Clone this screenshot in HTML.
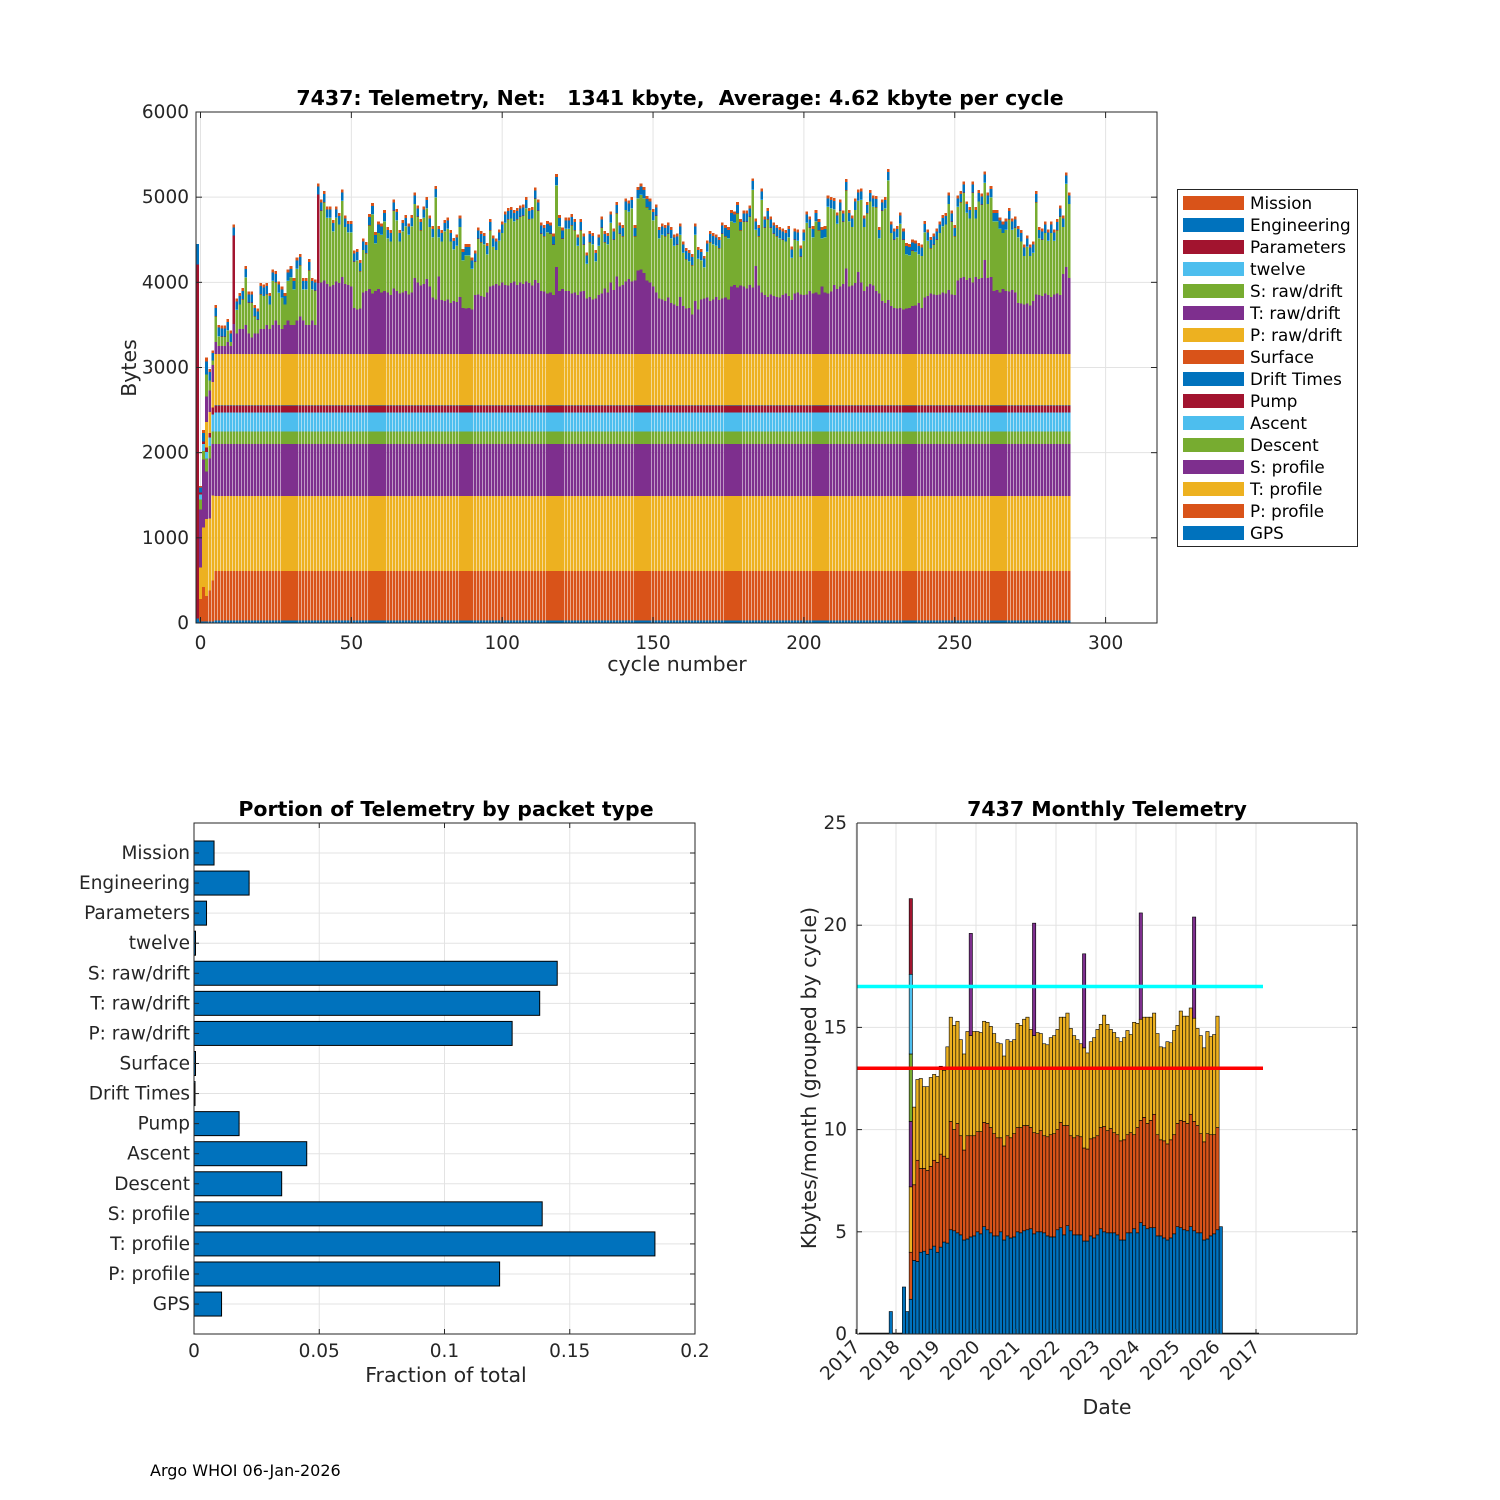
<!DOCTYPE html>
<html><head><meta charset="utf-8"><style>
html,body{margin:0;padding:0;background:#fff;}
svg{display:block;font-family:"DejaVu Sans","Liberation Sans",sans-serif;}
</style></head><body>
<svg id="root" width="1500" height="1500" viewBox="0 0 1500 1500" xmlns="http://www.w3.org/2000/svg">
<rect x="0" y="0" width="1500" height="1500" fill="#fff"/>
<g id="top"></g>
<g id="bl"></g>
<g id="br"></g>
<text x="150" y="1476" font-size="16" fill="#000">Argo WHOI 06-Jan-2026</text>
</svg>
<script>
// ===== Top chart data =====
const layerNames = ["GPS","P: profile","T: profile","S: profile","Descent","Ascent","Pump","Drift Times","Surface","P: raw/drift","T: raw/drift","S: raw/drift","twelve","Parameters","Engineering","Mission"];
const layerColors = ["#0072BD","#D95319","#EDB120","#7E2F8E","#77AC30","#4DBEEE","#A2142F","#0072BD","#D95319","#EDB120","#7E2F8E","#77AC30","#4DBEEE","#A2142F","#0072BD","#D95319"];
const firstCycle = -1;
// total bytes per cycle, cycles -1..288
const cycleTotal = [
4450,1590,2265,3060,2980,3200,3730,3500,3490,3490,3570,3430,4680,3810,3870,3930,4190,3890,3890,3730,3690,3990,3970,3990,3870,4150,4130,4010,3950,3870,4150,4190,4050,4290,4330,4050,4050,4270,4050,4030,5160,
4970,5070,4890,4890,4730,4890,4810,5090,4780,4720,4720,4370,4390,4260,4510,4470,4800,4930,4590,4710,4690,4850,4650,4610,4970,4860,4610,4730,4790,4690,4790,5050,4900,4740,4890,5000,4780,4660,5130,4660,4610,4730,4760,4610,4520,4560,4780,4390,4450,4450,4290,4370,4640,4600,4580,4460,4740,4550,4510,4620,4710,4830,4870,4880,4850,4870,4900,4910,5000,4870,4880,5110,4970,4700,4670,4720,4700,4570,5270,4790,4640,4760,
4760,4800,4740,4560,4740,4570,4350,4600,4580,4380,4560,4770,4600,4580,4830,4630,4940,4700,4670,4980,4960,5000,4670,5120,5160,5120,5010,4980,4860,4910,4650,4690,4670,4700,4650,4560,4570,4690,4480,4400,4380,4330,4690,4410,4390,4310,4490,4600,4580,4560,4530,4700,4670,4650,4850,4830,4940,4740,4840,4840,4900,5220,4750,4670,5100,4770,4870,4770,4700,4670,4650,4630,4610,4660,4420,4630,4620,4430,4620,4830,4770,4660,4850,4740,4650,4660,5020,5000,4990,
4820,4970,4840,5210,4850,4780,4980,5090,5100,4780,4940,5080,5020,5010,4650,4970,5000,5330,4710,4630,4660,4820,4630,4460,4450,4500,4490,4460,4440,4720,4620,4530,4570,4630,4710,4790,4810,5050,4840,4670,5020,5070,5180,4950,4880,5180,4880,5080,5040,5300,5050,5130,4850,4850,4760,4710,4750,4870,4750,4770,4660,4610,4440,4550,4440,4480,5070,4650,4630,4710,4620,4710,4620,4740,4900,4780,5290,5050
];
// top of "T: raw/drift" layer for cycles 5..288
const tRawTop = [
3300,3250,3250,3250,3300,3250, 3510, 3400,3450,3450,3500, 3400,3350,3400,3400,3450,
3450,3500,3450,3500,3550,3500,3450,3500,3550,3500, 3500,3550,3600,3550,3500,3500,3550,3500, 3990,
4000,4020,3980,3950,3970,4010,3990,4060,3980,3970,3950, 3700,3680,3690, 3880,3900,3920,3870,3900,3920,3880,
3900,3880,3850,3930,3900,3870,3880,3900,3860,3880, 4050,4000,3960,3980,4040,3950,
3820,3800,4070,3790,3780,3800,3760,3780,3770, 3830,3700,3690,3700,3680, 3850,3860,3840,3830,3880,
3950,3960,3980,3960,4000,3970,3960,3990,4010,3970,4000,3980,4010,3990,3960, 4030,3990,3900,3890,3870,3880,3850,
4180,3900,3920,3900, 3900,3870,3880,3850,3890,3900,3810,3830,3800,3810,3850,3870,3930,3880,4000,3910,
4070,3950,3970,4010,4040,4010,4020,4140,4150,4110,4020,4000,3950,
3880,3810,3800,3780,3820,3760,3740,3720,3830,3720,3690,3700,3620,3780,3680,
3800,3810,3820,3780,3800,3830,3790,3810,3820,3800, 3950,3970,3940,3960,3950,3930,3970,3940,4190,3960,
3880,3850,3830,3860,3840,3830,3820,3850,3870,3840,3790, 3870,3880,3860,3850,3860,3900,3870,3880,3860,3950,3880,3870,3890,3970,
3920,3950,3980,4160,3950,3960,3990,4120,4000,3900,3950,3980,3960,3900,3870,
3780,3760,3790,3720,3700,3690,3700,3680,3690,3700,3720,3730,3760,3700,3820,
3840,3870,3860,3850,3860,3880,3870,3910,3860,3850, 4020,4050,4060,4030,4050,4000,4060,4040,4050,4260,4050,4060,
3900,3910,3880,3920,3900,3890,3910,3880, 3760,3750,3740,3750,3730,3780, 3860,3850,3840,3870,3850,3830,3860,3870,3850, 4100,4180,4050
];
// typical segment sizes of the ten lower layers (GPS .. P: raw/drift)
const lowerSegments = [30,580,880,610,150,220,80,5,5,600];
const capSegments = {twelve:3, parameters:2, engineering:95, mission:35};
const parameterSpikeCycles = [11,39];
// explicit segments for first cycles -1..4
const earlySegments = [
[50,0,0,0,0,0,0,0,0,0,0,0,0,4160,240,0],
[20,260,370,680,120,60,20,0,0,0,0,0,0,0,60,20],
[20,400,700,800,100,80,30,0,0,0,0,0,0,0,100,35],
[20,300,900,560,150,80,50,0,0,300,300,260,0,0,150,50],
[20,360,850,700,150,100,50,0,0,250,250,120,0,0,100,30],
[20,480,1000,600,150,200,80,0,0,300,200,50,0,0,90,30]
];
const topXTicks = [0,50,100,150,200,250,300];
const topYTicks = [0,1000,2000,3000,4000,5000,6000];

// ===== Bottom-left data =====
const packetCategories = ["Mission","Engineering","Parameters","twelve","S: raw/drift","T: raw/drift","P: raw/drift","Surface","Drift Times","Pump","Ascent","Descent","S: profile","T: profile","P: profile","GPS"];
const packetFractions = [0.008,0.022,0.005,0.0006,0.145,0.138,0.127,0.0006,0.0004,0.018,0.045,0.035,0.139,0.184,0.122,0.011];
const fracTicks = [0,0.05,0.1,0.15,0.2];
const fracTickLabels = ["0","0.05","0.1","0.15","0.2"];

// ===== Bottom-right data =====
const monthStartYear = 2018.37; // first full monthly bar
const blueTop = [3.6,3.55,4.0,4.05,3.9,4.15,4.3,4.0,4.25,4.5,4.45,5.1,5.05,4.95,4.85,4.6,4.65,4.75,4.8,5.0,4.9,5.25,5.1,4.95,4.8,4.8,5.0,4.6,4.8,4.7,4.75,5.0,4.95,5.05,5.1,5.15,4.9,5.0,5.0,4.95,4.8,4.75,4.75,5.1,5.2,4.85,5.3,5.05,4.85,4.85,4.85,4.55,4.55,4.8,4.7,4.85,5.15,5.0,4.95,4.95,4.95,4.85,4.6,4.6,4.95,4.95,5.15,4.95,5.45,5.3,5.15,5.2,5.2,4.8,4.8,4.7,4.6,4.7,4.9,5.25,5.2,5.1,5.05,5.25,5.05,4.95,4.95,4.6,4.65,4.8,4.9,5.1,5.25];
const orangeTop = [7.3,8.5,8.1,8.1,8.0,8.2,8.5,8.4,8.8,8.7,8.6,10.4,10.0,10.3,9.7,9.0,9.7,9.7,9.7,9.9,9.9,10.35,10.3,10.1,9.8,9.6,9.6,9.2,9.7,9.6,9.8,10.1,10.1,10.2,10.2,10.1,9.85,9.8,9.95,9.7,9.65,9.75,9.8,10.0,10.35,10.2,10.2,9.7,9.6,9.7,9.65,9.1,9.05,9.55,9.6,9.7,10.1,10.15,9.95,10.05,9.85,9.75,9.45,9.5,9.75,9.85,9.75,10.1,10.45,10.6,10.3,10.45,10.75,9.75,9.5,9.45,9.3,9.5,9.75,10.3,10.45,10.4,10.3,10.75,10.4,10.2,9.8,9.4,9.8,9.75,9.75,10.1];
const yellowTop = [11.1,12.45,12.5,12.1,12.1,12.55,12.7,12.6,13.1,12.9,14.05,15.5,15.1,15.3,14.4,13.7,14.8,14.6,14.8,14.8,14.75,15.3,15.25,15.05,14.7,14.25,14.2,13.6,14.4,14.3,14.4,15.2,15.1,15.4,15.5,14.9,14.6,14.75,14.7,14.2,14.15,14.5,14.6,14.9,15.5,15.5,15.7,14.95,14.6,14.4,14.2,14.0,13.75,14.3,14.5,14.9,15.15,15.6,15.15,14.9,14.75,14.5,14.3,14.5,14.85,14.65,15.25,15.2,15.4,15.5,15.5,15.5,15.7,14.7,14.05,14.0,14.3,14.25,14.85,15.1,15.8,15.55,15.55,15.95,15.45,14.95,14.6,14.0,14.8,14.55,14.65,15.55];
const spikeMonths = [18,37,52,69,85];
const spikeTops = [19.6,20.1,18.6,20.6,20.4];
const earlyDates = [2017.87,2018.2,2018.28];
const earlyValues = [1.1,2.3,1.1];
const firstMonthStack = [1.7,4.0,7.2,10.4,13.7,17.6,21.3];
const firstMonthColors = ["#0072BD","#D95319","#EDB120","#7E2F8E","#77AC30","#4DBEEE","#A2142F"];
const yearTicks = [2017,2018,2019,2020,2021,2022,2023,2024,2025,2026,2027];
const yearTickLabels = ["2017","2018","2019","2020","2021","2022","2023","2024","2025","2026","2017"];
const monthYTicks = [0,5,10,15,20,25];
const limitLines = [17,13];
const limitColors = ["#00FFFF","#FF0000"];

const NS="http://www.w3.org/2000/svg";
function mk(parent,tag,attrs,text){const e=document.createElementNS(NS,tag);for(const k in attrs)e.setAttribute(k,attrs[k]);if(text!==undefined)e.textContent=text;parent.appendChild(e);return e;}
const TXT="#262626";
const TICKF=18.5, TITLEF=20.5;

// ===== Top chart =====
(function(){
  const g=document.getElementById('top');
  const L=196,R=1157,T=112,B=623;
  const X=c=>200.5+3.017*c;
  const Y=v=>B-v*(B-T)/6000;
  topXTicks.forEach(t=>{const l=mk(g,'line',{x1:X(t),x2:X(t),y1:T,y2:B,stroke:'#e3e3e3','stroke-width':1});
    
    });
  topYTicks.forEach(t=>{const l=mk(g,'line',{x1:L,x2:R,y1:Y(t),y2:Y(t),stroke:'#e3e3e3','stroke-width':1});
    
    });
  const bars=mk(g,'g',{'shape-rendering':'crispEdges'});
  
  
  for(let i=0;i<cycleTotal.length;i++){
    const c=firstCycle+i;
    let segs;
    if(i<earlySegments.length){segs=earlySegments[i].slice();}
    else{
      const tt=tRawTop[c-5];
      const lowTop=lowerSegments.reduce((a,b)=>a+b,0);
      const total=cycleTotal[i];
      const caps=capSegments.twelve+capSegments.engineering+capSegments.mission;
      const spike=parameterSpikeCycles.indexOf(c)>=0;
      const rest=Math.max(0,total-caps-tt);
      segs=lowerSegments.concat([Math.max(0,tt-lowTop), spike?0:rest, capSegments.twelve, spike?rest:capSegments.parameters, capSegments.engineering, capSegments.mission]);
    }
    let acc=0;
    segs.forEach((s,k)=>{
      if(s<=0)return;
      const r=mk(bars,'rect',{x:(X(c)-1.3).toFixed(2),y:Y(acc+s).toFixed(2),width:2.6,height:(Y(acc)-Y(acc+s)).toFixed(2),fill:layerColors[k]});
      
      
      acc+=s;
    });
  }
  const box=mk(g,'rect',{x:L,y:T,width:R-L,height:B-T,fill:'none',stroke:TXT,'stroke-width':1});
  
  
  topXTicks.forEach(t=>{
    mk(g,'line',{x1:X(t),x2:X(t),y1:B,y2:B-6,stroke:TXT});
    mk(g,'line',{x1:X(t),x2:X(t),y1:T,y2:T+6,stroke:TXT});
    const tx=mk(g,'text',{x:X(t),y:649,'font-size':TICKF,'text-anchor':'middle',fill:TXT},String(t));
    
    
  });
  topYTicks.forEach(t=>{
    mk(g,'line',{x1:L,x2:L+6,y1:Y(t),y2:Y(t),stroke:TXT});
    mk(g,'line',{x1:R,x2:R-6,y1:Y(t),y2:Y(t),stroke:TXT});
    const tx=mk(g,'text',{x:189,y:Y(t)+6,'font-size':TICKF,'text-anchor':'end',fill:TXT},String(t));
    
    
  });
  const ti=mk(g,'text',{x:680,y:105,'font-size':TITLEF,'font-weight':'bold','text-anchor':'middle',fill:'#000'},'7437: Telemetry, Net:   1341 kbyte,  Average: 4.62 kbyte per cycle');
  ti.setAttribute('style','white-space:pre');
  
  
  const xl=mk(g,'text',{x:677,y:671,'font-size':TITLEF,'text-anchor':'middle',fill:TXT},'cycle number');
  
  
  const yl=mk(g,'text',{x:0,y:0,'font-size':TITLEF,'text-anchor':'middle',fill:TXT,transform:'translate(136,368) rotate(-90)'},'Bytes');
  
  
  const lg=mk(g,'g',{});
  
  
  mk(lg,'rect',{x:1177.5,y:189.5,width:180,height:357,fill:'#fff',stroke:TXT,'stroke-width':1});
  for(let k=0;k<16;k++){
    const idx=15-k; const yy=203+k*22;
    const e=mk(lg,'g',{});
    
    
    mk(e,'rect',{x:1183,y:yy-7,width:61,height:14,fill:layerColors[idx]});
    mk(e,'text',{x:1250,y:yy+6,'font-size':16.8,fill:'#000'},layerNames[idx]);
  }
})();

// ===== Bottom-left chart =====
(function(){
  const g=document.getElementById('bl');
  const L=194,R=695,T=823,B=1334;
  const X=v=>L+v*(R-L)/0.2;
  const Yc=i=>853+i*30.07;
  fracTicks.forEach(t=>{const l=mk(g,'line',{x1:X(t),x2:X(t),y1:T,y2:B,stroke:'#e3e3e3'});
    
    });
  packetCategories.forEach((c,i)=>{const l=mk(g,'line',{x1:L,x2:R,y1:Yc(i),y2:Yc(i),stroke:'#e3e3e3'});
    
    });
  packetCategories.forEach((c,i)=>{
    const r=mk(g,'rect',{x:X(0),y:Yc(i)-12,width:Math.max(0.5,X(packetFractions[i])-X(0)),height:24,fill:'#0072BD',stroke:'#000','stroke-width':1});
    
    
    mk(g,'line',{x1:L,x2:L+5,y1:Yc(i),y2:Yc(i),stroke:TXT});
    mk(g,'line',{x1:R,x2:R-5,y1:Yc(i),y2:Yc(i),stroke:TXT});
    const tx=mk(g,'text',{x:190,y:Yc(i)+6,'font-size':TICKF,'text-anchor':'end',fill:TXT},c);
    
    
  });
  const box=mk(g,'rect',{x:L,y:T,width:R-L,height:B-T,fill:'none',stroke:TXT});
  
  
  fracTicks.forEach((t,i)=>{
    mk(g,'line',{x1:X(t),x2:X(t),y1:B,y2:B-5,stroke:TXT});
    mk(g,'line',{x1:X(t),x2:X(t),y1:T,y2:T+5,stroke:TXT});
    const tx=mk(g,'text',{x:X(t),y:1357,'font-size':TICKF,'text-anchor':'middle',fill:TXT},fracTickLabels[i]);
    
    
  });
  const ti=mk(g,'text',{x:446,y:816,'font-size':TITLEF,'font-weight':'bold','text-anchor':'middle',fill:'#000'},'Portion of Telemetry by packet type');
  
  
  const xl=mk(g,'text',{x:446,y:1382,'font-size':TITLEF,'text-anchor':'middle',fill:TXT},'Fraction of total');
  
  
})();

// ===== Bottom-right chart =====
(function(){
  const g=document.getElementById('br');
  const L=857,R=1357,T=823,B=1334;
  const X=yr=>856+40*(yr-2017);
  const Y=v=>B-v*(B-T)/25;
  yearTicks.forEach(t=>{const l=mk(g,'line',{x1:X(t),x2:X(t),y1:T,y2:B,stroke:'#e3e3e3'});
    
    });
  monthYTicks.forEach(t=>{const l=mk(g,'line',{x1:L,x2:R,y1:Y(t),y2:Y(t),stroke:'#e3e3e3'});
    
    });
  const bw=3.3;
  function seg(x,v0,v1,col,name){
    const r=mk(g,'rect',{x:(x-bw/2).toFixed(2),y:Y(v1).toFixed(2),width:bw,height:(Y(v0)-Y(v1)).toFixed(2),fill:col,stroke:'#000','stroke-width':0.6});
    
    
  }
  const base=mk(g,'line',{x1:X(2017)+3,x2:X(2027)+3,y1:B-0.5,y2:B-0.5,stroke:'#000','stroke-width':1.5});
  
  
  earlyDates.forEach((d,i)=>seg(X(d),0,earlyValues[i],'#0072BD','early-month-bar'));
  let prev=0;
  firstMonthStack.forEach((v,k)=>{seg(X(monthStartYear),prev,v,firstMonthColors[k],'first-month-segment');prev=v;});
  for(let i=0;i<blueTop.length;i++){
    const m=i+1; const x=X(monthStartYear+m/12);
    seg(x,0,blueTop[i],'#0072BD','month-bar-blue');
    if(i<orangeTop.length) seg(x,blueTop[i],orangeTop[i],'#D95319','month-bar-orange');
    if(i<yellowTop.length) seg(x,orangeTop[i],yellowTop[i],'#EDB120','month-bar-yellow');
    const si=spikeMonths.indexOf(m);
    if(si>=0) seg(x,yellowTop[i],spikeTops[si],'#7E2F8E','month-bar-spike');
  }
  limitLines.forEach((v,i)=>{
    const l=mk(g,'line',{x1:L,x2:1263,y1:Y(v),y2:Y(v),stroke:limitColors[i],'stroke-width':3.5});
    
    
  });
  mk(g,'line',{x1:L,x2:L,y1:T,y2:B,stroke:TXT});
  mk(g,'line',{x1:L,x2:R,y1:B,y2:B,stroke:TXT});
  mk(g,'line',{x1:R,x2:R,y1:T,y2:B,stroke:TXT});
  mk(g,'line',{x1:L,x2:R,y1:T,y2:T,stroke:TXT});
  monthYTicks.forEach(t=>{
    mk(g,'line',{x1:L,x2:L+5,y1:Y(t),y2:Y(t),stroke:TXT});
    mk(g,'line',{x1:R,x2:R-5,y1:Y(t),y2:Y(t),stroke:TXT});
    const tx=mk(g,'text',{x:847,y:Y(t)+6,'font-size':TICKF,'text-anchor':'end',fill:TXT},String(t));
    
    
  });
  yearTicks.forEach((t,i)=>{
    mk(g,'line',{x1:X(t),x2:X(t),y1:B,y2:B-5,stroke:TXT});
    const tx=mk(g,'text',{x:0,y:0,'font-size':TICKF,'text-anchor':'end',fill:TXT,transform:`translate(${X(t)+5},${B+14}) rotate(-45)`},yearTickLabels[i]);
    
    
  });
  const ti=mk(g,'text',{x:1107,y:816,'font-size':TITLEF,'font-weight':'bold','text-anchor':'middle',fill:'#000'},'7437 Monthly Telemetry');
  
  
  const xl=mk(g,'text',{x:1107,y:1414,'font-size':TITLEF,'text-anchor':'middle',fill:TXT},'Date');
  
  
  const yl=mk(g,'text',{x:0,y:0,'font-size':TITLEF,'text-anchor':'middle',fill:TXT,transform:'translate(816,1078) rotate(-90)'},'Kbytes/month (grouped by cycle)');
  
  
})();
</script>
</body></html>
